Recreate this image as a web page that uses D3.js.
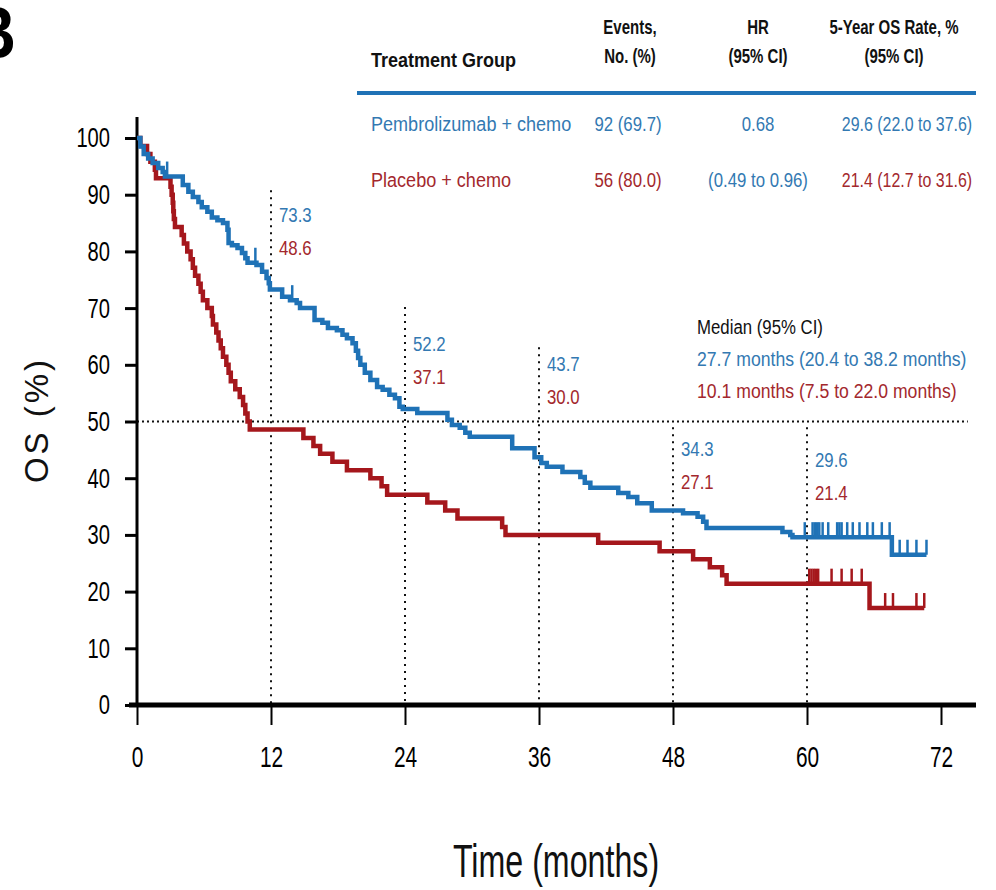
<!DOCTYPE html>
<html>
<head>
<meta charset="utf-8">
<script src="https://cdn.jsdelivr.net/npm/d3@7"></script>
<style>
  body { margin: 0; background: #fff; }
  svg { display: block; }
  text { font-family: "Liberation Sans", Arial, sans-serif; }
</style>
</head>
<body>
<svg id="chart"></svg>
<script>
var w = 996, h = 890;
var blue = "#1f72b6", red = "#a5171c";
var blueText = "#3379b2", redText = "#a3282d";

// Kaplan-Meier steps: [time (months), OS % after the event]
var pembroTimes = [0.3, 0.6, 1.0, 1.4, 1.9, 2.3, 2.5, 4.1, 4.6, 5.0, 5.5, 5.8, 6.3, 6.7, 7.2, 7.7, 8.1, 8.2, 8.5, 9.0, 9.4, 9.7, 9.9, 10.7, 11.2, 11.6, 11.8, 11.9, 13.0, 13.7, 14.3, 14.6, 15.9, 16.6, 17.1, 17.9, 18.4, 18.8, 19.3, 19.6, 19.8, 20.0, 20.4, 20.9, 21.5, 22.0, 22.6, 23.1, 23.5, 23.8, 25.1, 27.8, 28.2, 28.9, 29.4, 29.8, 33.6, 35.6, 36.2, 36.7, 38.1, 39.7, 40.1, 40.6, 43.1, 44.0, 44.8, 46.1, 48.9, 50.2, 50.7, 51.0, 57.8, 58.5, 58.7, 67.6];
var pembroOS = [98.5, 97.2, 96.4, 95.6, 94.7, 94.0, 93.2, 91.7, 90.5, 89.6, 88.7, 87.8, 87.0, 86.0, 85.5, 85.0, 83.8, 81.5, 81.1, 80.6, 79.7, 78.8, 78.0, 77.6, 76.4, 75.3, 74.4, 73.3, 72.0, 71.4, 70.9, 70.0, 67.9, 67.4, 66.5, 66.1, 65.3, 64.7, 63.8, 62.5, 61.2, 60.0, 58.6, 57.3, 56.1, 55.6, 54.7, 54.1, 52.6, 52.2, 51.5, 50.3, 49.4, 48.9, 48.0, 47.3, 45.3, 43.7, 42.7, 42.0, 41.1, 40.2, 39.2, 38.3, 37.4, 36.7, 35.6, 34.3, 33.8, 33.2, 32.3, 31.2, 30.5, 30.0, 29.6, 26.5];
var pembroEnd = 70.7;
var pembroCensor = [2.7, 10.6, 13.9, 59.8, 60.5, 60.7, 60.9, 61.1, 61.4, 61.9, 62.7, 62.9, 63.1, 63.6, 64.1, 64.7, 65.4, 65.9, 66.7, 67.4, 68.3, 69.0, 69.8, 70.7];

var placeboTimes = [0.3, 0.9, 1.2, 1.6, 1.7, 3.0, 3.1, 3.2, 3.25, 3.3, 3.4, 4.0, 4.2, 4.5, 4.8, 5.0, 5.2, 5.5, 5.7, 5.9, 6.3, 6.7, 6.8, 7.1, 7.3, 7.5, 7.7, 8.0, 8.2, 8.4, 8.8, 9.2, 9.5, 9.7, 9.9, 10.1, 14.9, 15.8, 16.4, 17.5, 18.8, 20.9, 21.9, 22.4, 26.0, 27.6, 28.7, 32.7, 33.0, 41.3, 46.8, 49.8, 51.3, 52.4, 52.8, 65.6];
var placeboOS = [98.6, 97.2, 95.8, 94.4, 92.9, 91.4, 90.0, 88.6, 87.1, 85.7, 84.3, 82.9, 81.4, 80.0, 78.6, 77.1, 75.7, 74.3, 72.9, 71.4, 70.0, 68.6, 67.1, 65.7, 64.3, 62.9, 61.4, 60.0, 58.6, 57.1, 55.7, 54.3, 52.9, 51.4, 50.0, 48.6, 47.1, 45.7, 44.3, 42.9, 41.4, 40.0, 38.6, 37.1, 35.7, 34.3, 32.9, 31.4, 30.0, 28.6, 27.1, 25.7, 24.3, 22.9, 21.4, 17.1];
var placeboEnd = 70.5;
var placeboCensor = [60.2, 60.4, 60.6, 60.8, 61.0, 62.2, 63.1, 64.0, 64.9, 67.0, 67.7, 69.8, 70.5];

// landmark rates shown beside the dotted lines
var landmarkMonths = [12, 24, 36, 48, 60];
var landmarkPembro = ["73.3", "52.2", "43.7", "34.3", "29.6"];
var landmarkPlacebo = ["48.6", "37.1", "30.0", "27.1", "21.4"];
var landmarkTop = [90.8, 70.2, 63.1, 49, 49];

var xTicks = [0, 12, 24, 36, 48, 60, 72];
var yTicks = [0, 10, 20, 30, 40, 50, 60, 70, 80, 90, 100];

// table
var rowGroups = ["Pembrolizumab + chemo", "Placebo + chemo"];
var rowEvents = ["92 (69.7)", "56 (80.0)"];
var rowHR = ["0.68", "(0.49 to 0.96)"];
var rowRate = ["29.6 (22.0 to 37.6)", "21.4 (12.7 to 31.6)"];

var svg = d3.select("#chart").attr("width", w).attr("height", h);

var x = d3.scaleLinear().domain([0, 72]).range([137, 941]);
var y = d3.scaleLinear().domain([0, 100]).range([705, 138]);

var SX = 0.8; // narrow the glyphs to imitate the condensed face

function ctext(parent, px, py, str, size, opts) {
    opts = opts || {};
    var sx = opts.sx || SX;
    var t = parent.append("text")
        .attr("transform", "translate(" + px + "," + py + ") scale(" + sx + ",1)")
        .attr("font-size", size)
        .attr("fill", opts.fill || "#111")
        .attr("text-anchor", opts.anchor || "start")
        .text(str);
    if (opts.bold) t.attr("font-weight", "bold");
    return t;
}

function curve(times, vals, end) {
    var pts = [[0, 100]];
    times.forEach(function(t, i) { pts.push([t, vals[i]]); });
    pts.push([end, vals[vals.length - 1]]);
    return pts;
}
function valueAt(times, vals, t) {
    var i = d3.bisectRight(times, t);
    return i === 0 ? 100 : vals[i - 1];
}

// reference lines
svg.append("line")
    .attr("x1", x(0)).attr("x2", x(74.4))
    .attr("y1", y(50)).attr("y2", y(50))
    .attr("stroke", "#111").attr("stroke-width", 2).attr("stroke-dasharray", "2,3");

svg.selectAll(".vref").data(landmarkMonths).enter().append("line")
    .attr("x1", function(d) { return x(d); })
    .attr("x2", function(d) { return x(d); })
    .attr("y1", function(d, i) { return y(landmarkTop[i]); })
    .attr("y2", y(0))
    .attr("stroke", "#111").attr("stroke-width", 2).attr("stroke-dasharray", "2,5");

// axes
var TX = 0.72;
var yAxis = d3.axisLeft(y).tickValues(yTicks).tickSize(12);
var gy = svg.append("g").attr("transform", "translate(" + x(0) + ",0)").call(yAxis);
gy.select(".domain").remove();
gy.selectAll(".tick line").attr("stroke", "#000").attr("stroke-width", 3);
gy.selectAll(".tick text")
    .attr("font-size", 28).attr("fill", "#000")
    .attr("x", -27 / TX)
    .attr("transform", "scale(" + TX + ",1)");
svg.append("line").attr("x1", x(0)).attr("x2", x(0)).attr("y1", 117).attr("y2", y(0))
    .attr("stroke", "#000").attr("stroke-width", 3);

var xAxis = d3.axisBottom(x).tickValues(xTicks).tickSize(20).tickPadding(21);
var gx = svg.append("g").attr("transform", "translate(0," + y(0) + ")").call(xAxis);
gx.select(".domain").remove();
gx.selectAll(".tick line").attr("stroke", "#000").attr("stroke-width", 2);
gx.selectAll(".tick text")
    .attr("font-size", 29).attr("fill", "#000")
    .attr("transform", "scale(" + TX + ",1)");
svg.append("line").attr("x1", 129).attr("x2", 976).attr("y1", y(0)).attr("y2", y(0))
    .attr("stroke", "#000").attr("stroke-width", 5);

// curves
var line = d3.line()
    .x(function(d) { return x(d[0]); })
    .y(function(d) { return y(d[1]); })
    .curve(d3.curveStepAfter);

var series = [
    { times: placeboTimes, vals: placeboOS, end: placeboEnd, censor: placeboCensor, color: red },
    { times: pembroTimes, vals: pembroOS, end: pembroEnd, censor: pembroCensor, color: blue }
];

series.forEach(function(s) {
    svg.append("path").datum(curve(s.times, s.vals, s.end))
        .attr("d", line)
        .attr("fill", "none")
        .attr("stroke", s.color)
        .attr("stroke-width", 4.5);

    svg.selectAll(null).data(s.censor).enter().append("line")
        .attr("x1", function(d) { return x(d); })
        .attr("x2", function(d) { return x(d); })
        .attr("y1", function(d) { return y(valueAt(s.times, s.vals, d)); })
        .attr("y2", function(d) { return y(valueAt(s.times, s.vals, d)) - 15; })
        .attr("stroke", s.color)
        .attr("stroke-width", 2.5);
});

// landmark labels (baselines in px)
var labelY = [222, 351, 371, 456, 467];
landmarkMonths.forEach(function(m, i) {
    ctext(svg, x(m) + 8, labelY[i], landmarkPembro[i], 21, { fill: blueText });
    ctext(svg, x(m) + 8, labelY[i] + 33, landmarkPlacebo[i], 21, { fill: redText });
});

// median box
ctext(svg, 697, 334, "Median (95% CI)", 21, { fill: "#111" });
ctext(svg, 697, 366, "27.7 months (20.4 to 38.2 months)", 21, { fill: blueText, sx: 0.84 });
ctext(svg, 697, 398, "10.1 months (7.5 to 22.0 months)", 21, { fill: redText, sx: 0.84 });

// axis titles
svg.append("text")
    .attr("transform", "translate(48,420) rotate(-90)")
    .attr("text-anchor", "middle")
    .attr("font-size", 33).attr("letter-spacing", 3)
    .attr("fill", "#111")
    .text("OS (%)");

ctext(svg, 556, 877, "Time (months)", 46, { anchor: "middle", sx: 0.7 });

// panel letter
ctext(svg, 16, 58, "B", 74, { anchor: "end", bold: true, sx: 0.85, fill: "#000" });

// table
ctext(svg, 371, 67, "Treatment Group", 20, { bold: true, sx: 0.9 });
var heads = [["Events,", "No. (%)", 630], ["HR", "(95% CI)", 758], ["5-Year OS Rate, %", "(95% CI)", 894]];
heads.forEach(function(hd) {
    ctext(svg, hd[2], 34, hd[0], 20, { anchor: "middle", bold: true, sx: 0.75 });
    ctext(svg, hd[2], 63, hd[1], 20, { anchor: "middle", bold: true, sx: 0.75 });
});
svg.append("line").attr("x1", 357).attr("x2", 976).attr("y1", 93).attr("y2", 93)
    .attr("stroke", blue).attr("stroke-width", 4);

var rowColors = [blueText, redText];
var rowY = [131, 187];
rowGroups.forEach(function(g, i) {
    ctext(svg, 371, rowY[i], g, 21, { fill: rowColors[i], sx: 0.86 });
    ctext(svg, 628, rowY[i], rowEvents[i], 21, { anchor: "middle", fill: rowColors[i], sx: 0.8 });
    ctext(svg, 758, rowY[i], rowHR[i], 21, { anchor: "middle", fill: blueText, sx: 0.8 });
    ctext(svg, 907, rowY[i], rowRate[i], 21, { anchor: "middle", fill: rowColors[i], sx: 0.76 });
});
</script>
</body>
</html>
